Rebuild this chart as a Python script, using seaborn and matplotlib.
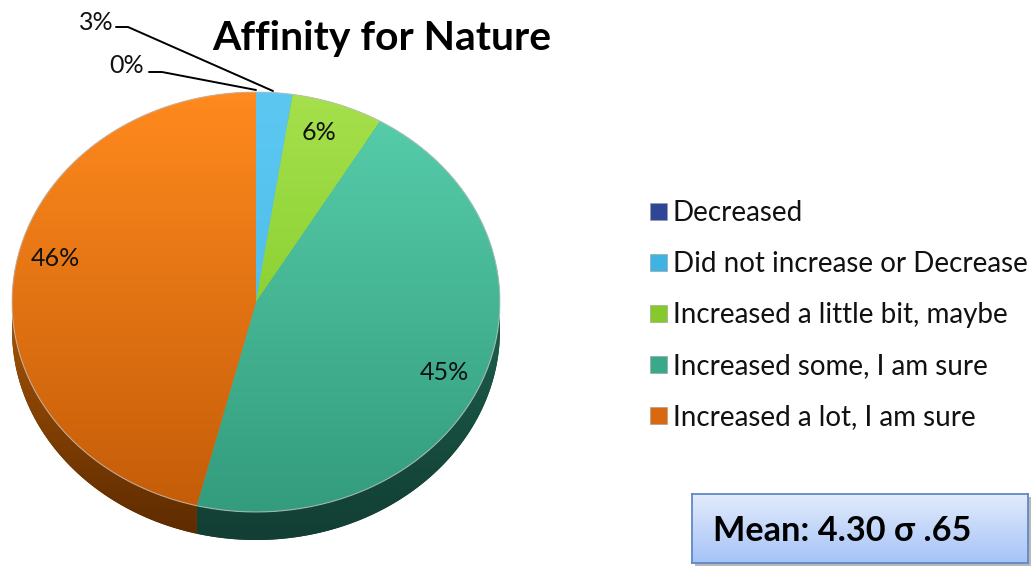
import numpy as np
import matplotlib
matplotlib.use("Agg")
import matplotlib.pyplot as plt
from matplotlib.patches import Patch, Polygon, Arc
from matplotlib.colors import LinearSegmentedColormap as LSC
import seaborn as sns

categories = ["Decreased", "Did not increase or Decrease", "Increased a little bit, maybe",
              "Increased some, I am sure", "Increased a lot, I am sure"]
values = [0.0, 2.4, 6.1, 45.4, 46.1]
pct_labels = ["0%", "3%", "6%", "45%", "46%"]
face_top = ["#3f55b0", "#5cc8f2", "#a6e04c", "#58cfac", "#ff8a1e"]
face_bottom = ["#2b3f8f", "#45b4e4", "#72c41c", "#339c7c", "#c45c08"]
side_top = ["#1c2a60", "#1d5f7c", "#3f6a10", "#1c5f4c", "#a85606"]
side_bottom = ["#141e48", "#174c64", "#2f500c", "#123e34", "#5c2a00"]
legend_colors = ["#2f4596", "#3fb4e4", "#86c92a", "#3aa88a", "#d9690f"]
label_pos = [(127, 66), (96, 22), (319, 132), (444, 373), (55, 259)]
leaders = [[(149, 72), (162, 72), (256, 90)], [(116, 27), (128, 27), (273, 91)]]
title = "Affinity for Nature"
note = "Mean: 4.30 σ .65"

W, H = 1035, 566
CX, CY, RX, RY, DEPTH = 256, 302, 244, 210, 28

sns.set_theme(style="white")
plt.rcParams["font.family"] = ["Lato", "DejaVu Sans"]
fig = plt.figure(figsize=(W / 100, H / 100), dpi=100, facecolor="white")
ax = fig.add_axes([0, 0, 1, 1])


def limits():
    ax.set_xlim(-CX / RX, (W - CX) / RX)
    ax.set_ylim(-(H - CY) / RY, CY / RY)
    ax.set_aspect("auto")
    ax.axis("off")


def gradient(patch, a, b, y_top, y_bottom, z):
    g = np.linspace(0, 1, 256).reshape(-1, 1)
    im = ax.imshow(g, cmap=LSC.from_list("g", [a, b]), aspect="auto", zorder=z,
                   extent=(-1.05, 1.05, y_bottom, y_top), origin="upper")
    im.set_clip_path(patch)


top, _ = ax.pie(values, startangle=90, counterclock=False, radius=1,
                wedgeprops=dict(linewidth=0))
limits()
d = DEPTH / RY
for w, ft, fb, st, sb in zip(top, face_top, face_bottom, side_top, side_bottom):
    if w.theta2 - w.theta1 <= 0:
        continue
    # extruded rim below the wedge's arc
    t = np.radians(np.linspace(w.theta1, w.theta2, 200))
    xs, ys = np.cos(t), np.sin(t)
    rim = np.r_[np.c_[xs, ys], np.c_[xs, ys - d][::-1]]
    poly = Polygon(rim, closed=True, facecolor=sb, edgecolor="none", zorder=1)
    ax.add_patch(poly)
    gradient(poly, st, sb, 0.0, -1 - d, 1.5)
    w.set_facecolor(fb)
    w.set_zorder(2)
    gradient(w, ft, fb, 1, -1, 3)
    ax.add_patch(Arc((0, 0), 2, 2, theta1=w.theta1, theta2=w.theta2,
                     edgecolor="#c4c4c4", alpha=0.75, linewidth=0.8, zorder=4))
limits()


def fx(x):
    return x / W


def fy(y):
    return 1 - y / H


for s, (x, y) in zip(pct_labels, label_pos):
    fig.text(fx(x), fy(y), s, fontsize=18, ha="center", va="center",
             color="#111111", zorder=10)

for pts in leaders:
    xs, ys = zip(*pts)
    fig.add_artist(plt.Line2D([fx(a) for a in xs], [fy(b) for b in ys], color="black",
                              lw=1.4, zorder=9))

fig.text(fx(382), fy(38.5), title, fontsize=29.4, fontweight="bold", ha="center", va="center",
         color="black")

handles = [Patch(facecolor=c, edgecolor="#999999", linewidth=0.4) for c in legend_colors]
fig.legend(handles, categories, loc="upper left", bbox_to_anchor=(642 / W, fy(192)),
           frameon=False, fontsize=20, handlelength=0.61, handleheight=0.61,
           handletextpad=0.19, labelspacing=0.9, borderpad=0.3, borderaxespad=0,
           labelcolor="#111111")

# note box
sh = fig.add_axes([fx(695), fy(566), 336 / W, 69 / H], zorder=4)
sh.set_facecolor("#b8b8b8")
sh.set_xticks([]); sh.set_yticks([])
for s in sh.spines.values():
    s.set_visible(False)
bx = fig.add_axes([fx(692), fy(563), 336 / W, 69 / H], zorder=5)
bx.imshow(np.linspace(0, 1, 128).reshape(-1, 1), aspect="auto",
          cmap=LSC.from_list("b", ["#e2ebfb", "#a6c3f8"]))
bx.set_xticks([]); bx.set_yticks([])
for s in bx.spines.values():
    s.set_edgecolor("#5f8ac4")
    s.set_linewidth(1.3)
bx.text(0.062, 0.46, note, transform=bx.transAxes, fontsize=24.7, fontweight="bold",
        ha="left", va="center", color="black")

fig.savefig("out.png", dpi=100)
